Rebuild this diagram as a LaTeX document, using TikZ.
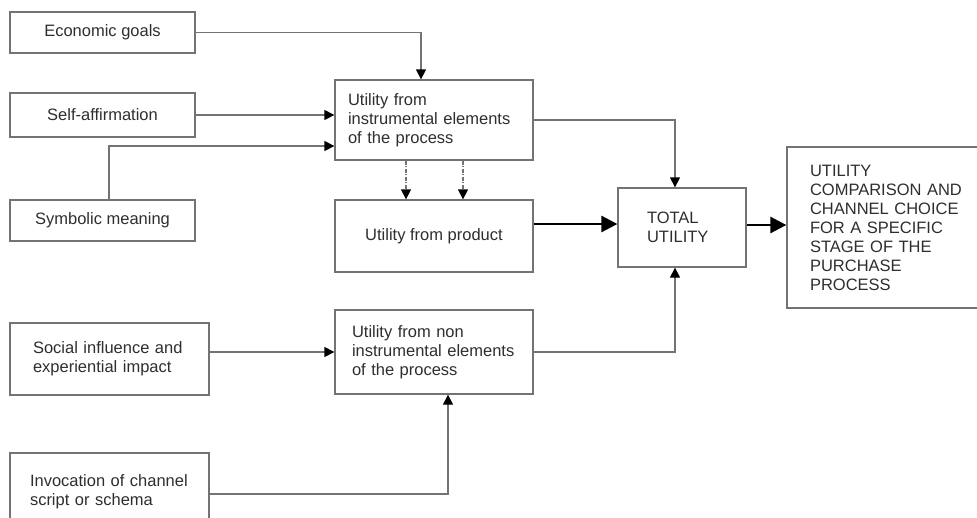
\documentclass[tikz,border=0pt]{standalone}
\usepackage{fontspec}
\setmainfont{Liberation Sans}
\usetikzlibrary{arrows.meta}
\definecolor{boxline}{HTML}{737373}
\definecolor{ink}{HTML}{2E2E2E}
\begin{document}
\begin{tikzpicture}[x=1pt,y=-1pt,
  box/.style={draw=boxline, line width=1.3pt, rectangle, inner sep=0pt,
    text=ink, font=\fontsize{16.5}{19}\selectfont, align=left},
  link/.style={draw=boxline, line width=1.3pt,
    -{Triangle[length=10pt,width=10pt,color=black]}},
  hint/.style={link, dash pattern=on 4pt off 1.5pt on 1pt off 1.5pt},
  flow/.style={draw=black, line width=2.8pt,
    -{Triangle[length=16pt,width=16pt]}}
]
\useasboundingbox (0,0) rectangle (977,517);

% input boxes on the left
\node[box, minimum width=185pt, minimum height=41pt] (econ) at (102.5,32.5) {Economic goals};
\node[box, minimum width=185pt, minimum height=44pt] (self) at (102.5,115) {Self-affirmation};
\node[box, minimum width=185pt, minimum height=41pt] (symb) at (102.5,220.5) {Symbolic meaning};
\node[box, minimum height=72pt, text width=153pt, inner xsep=23pt] (soc) at (109.5,359)
  {Social influence and\\experiential impact};
\node[box, minimum height=77pt, text width=159pt, inner xsep=20pt] (inv) at (109.5,491.5)
  {Invocation of channel\\script or schema};

% utility components
\node[box, minimum height=80pt, text width=172pt, inner xsep=13pt] (instr) at (434,120)
  {Utility from\\instrumental elements\\of the process};
\node[box, minimum width=198pt, minimum height=72pt] (prod) at (434,236) {Utility from product};
\node[box, minimum height=84pt, text width=164pt, inner xsep=17pt] (nonin) at (434,352)
  {Utility from non\\instrumental elements\\of the process};

% totals and outcome
\node[box, minimum height=79pt, text width=70pt, inner xsep=29pt] (tot) at (682,227.5)
  {TOTAL\\UTILITY};
\node[box, minimum height=161pt, text width=157pt, inner xsep=23pt] (out) at (888.5,227.5)
  {UTILITY\\COMPARISON AND\\CHANNEL CHOICE\\FOR A SPECIFIC\\STAGE OF THE\\PURCHASE\\PROCESS};

% inputs into the instrumental utility
\draw[link] (econ.east) -| ([xshift=-13pt]instr.north);
\draw[link] (self.east) -- (self.east -| instr.west);
\draw[link] ([xshift=6.5pt]symb.north) |- ([yshift=-26pt]instr.west);

% instrumental elements feeding the product utility
\draw[hint] ([xshift=-28pt]instr.south) -- ([xshift=-28pt]prod.north);
\draw[hint] ([xshift=29pt]instr.south) -- ([xshift=29pt]prod.north);

% inputs into the non-instrumental utility
\draw[link] (soc.east |- nonin.west) -- (nonin.west);
\draw[link] ([yshift=-2.5pt]inv.east) -| ([xshift=14pt]nonin.south);

% everything into total utility
\draw[link] (instr.east) -| ([xshift=-7pt]tot.north);
\draw[link] (nonin.east) -| ([xshift=-7pt]tot.south);
\draw[flow] (prod.east |- 0,224) -- (tot.west |- 0,224);
\draw[flow] (tot.east |- 0,225) -- (out.west |- 0,225);
\end{tikzpicture}
\end{document}
